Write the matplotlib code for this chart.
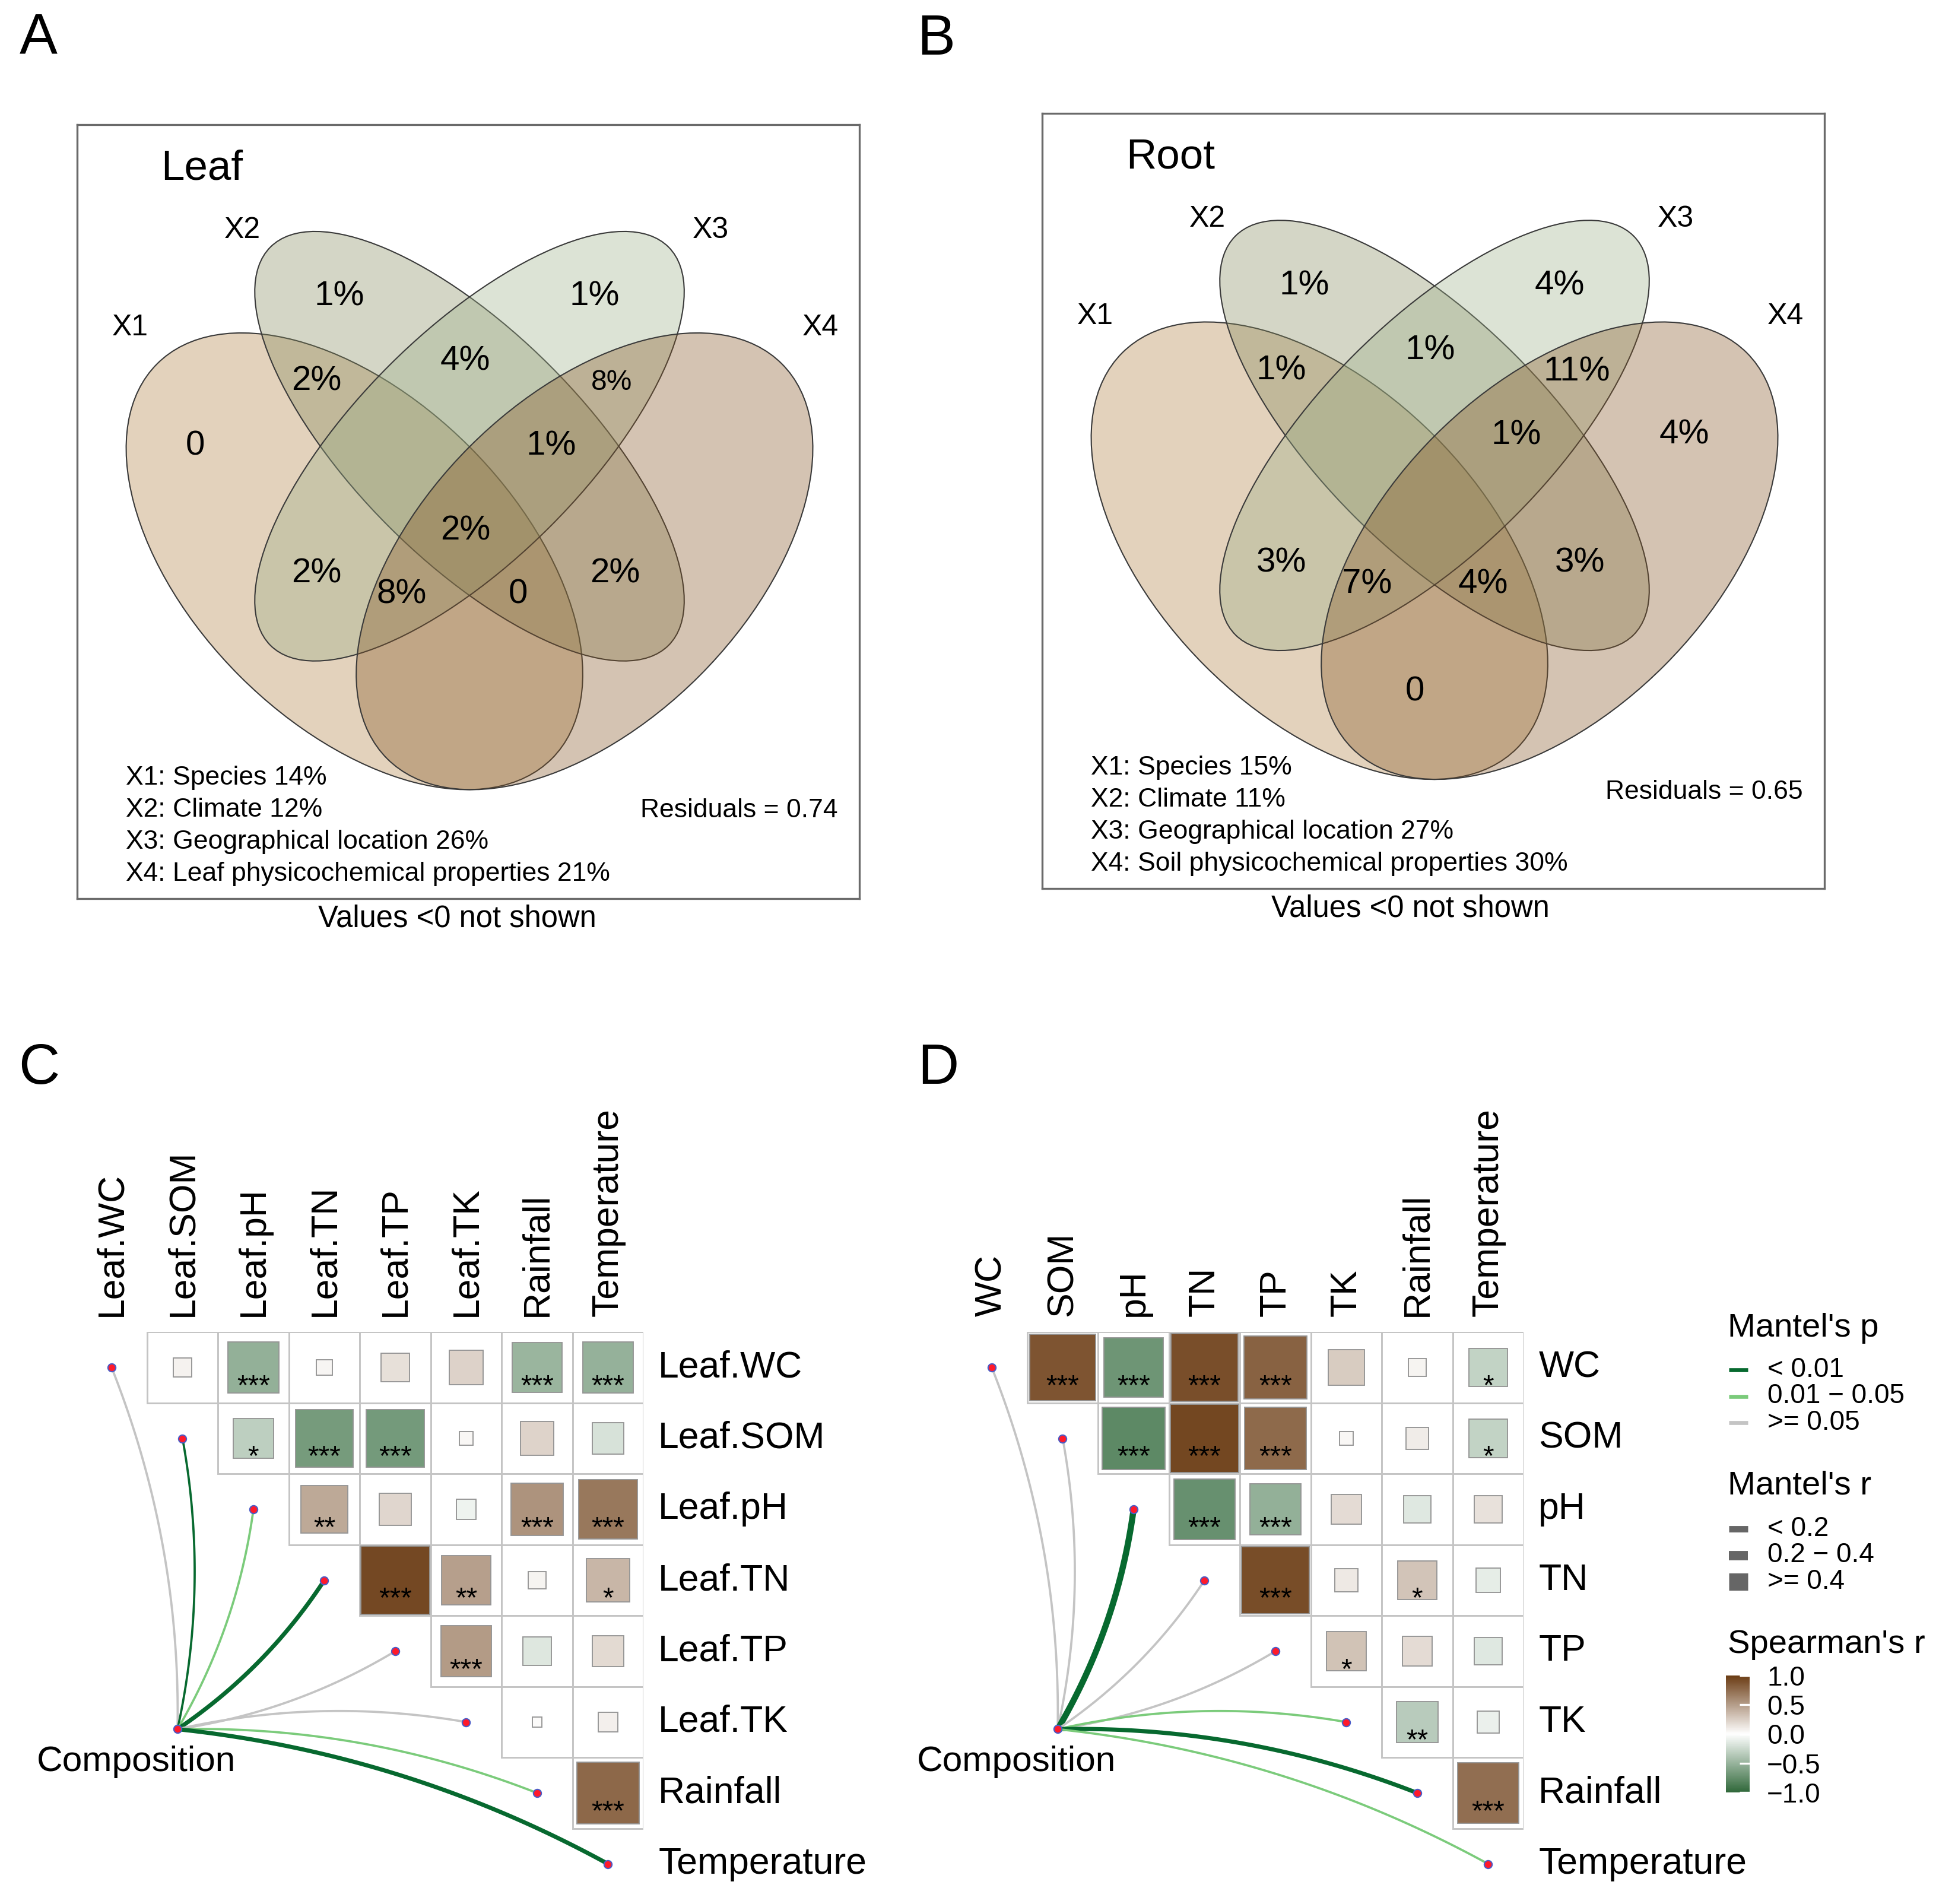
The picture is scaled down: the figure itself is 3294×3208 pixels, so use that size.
import numpy as np
import matplotlib
matplotlib.use('Agg')
import matplotlib.pyplot as plt
from matplotlib.patches import Ellipse, Rectangle
from matplotlib.colors import LinearSegmentedColormap, Normalize, to_rgba
from matplotlib.cm import ScalarMappable

plt.rcParams['font.family'] = ['Liberation Sans', 'DejaVu Sans']

W, H = 3295, 3208
DPI = 300

# ---------------- variance partitioning (A, B) ----------------
venn_regions = ['1', '2', '3', '4', '12', '13', '14', '23', '24', '34',
                '123', '124', '134', '234', '1234']
leaf_values = [0, 1, 1, None, 2, 2, None, 4, 2, 8, None, 0, 8, 1, 2]
root_values = [None, 1, 4, 4, 1, 3, 0, 1, 3, 11, None, 4, 7, 1, None]
leaf_parts = ['X1: Species 14%', 'X2: Climate 12%',
              'X3: Geographical location 26%',
              'X4: Leaf physicochemical properties 21%']
root_parts = ['X1: Species 15%', 'X2: Climate 11%',
              'X3: Geographical location 27%',
              'X4: Soil physicochemical properties 30%']
leaf_resid = 0.74
root_resid = 0.65

# ---------------- Spearman / Mantel (C, D) ----------------
leaf_vars = ['Leaf.WC', 'Leaf.SOM', 'Leaf.pH', 'Leaf.TN', 'Leaf.TP',
             'Leaf.TK', 'Rainfall', 'Temperature']
leaf_r = [[0.07, -0.52, 0.05, 0.16, 0.23, -0.49, -0.51],
          [-0.32, -0.66, -0.67, 0.04, 0.22, -0.19],
          [0.44, 0.21, -0.08, 0.55, 0.69],
          [0.93, 0.49, 0.06, 0.37],
          [0.51, -0.16, 0.19],
          [0.02, 0.08],
          [0.77]]
leaf_sig = [['', '***', '', '', '', '***', '***'],
            ['*', '***', '***', '', '', ''],
            ['**', '', '', '***', '***'],
            ['***', '**', '', '*'],
            ['***', '', ''],
            ['', ''],
            ['***']]
leaf_mantel_r = [0.08, 0.15, 0.12, 0.28, 0.06, 0.05, 0.13, 0.31]
leaf_mantel_p = [0.21, 0.004, 0.03, 0.001, 0.35, 0.42, 0.02, 0.001]

soil_vars = ['WC', 'SOM', 'pH', 'TN', 'TP', 'TK', 'Rainfall', 'Temperature']
soil_r = [[0.87, -0.70, 0.90, 0.80, 0.26, 0.06, -0.29],
          [-0.78, 0.94, 0.76, 0.04, 0.10, -0.29],
          [-0.73, -0.52, 0.18, -0.15, 0.15],
          [0.91, 0.11, 0.30, -0.12],
          [0.31, 0.18, -0.15],
          [-0.34, -0.10],
          [0.74]]
soil_sig = [['***', '***', '***', '***', '', '', '*'],
            ['***', '***', '***', '', '', '*'],
            ['***', '***', '', '', ''],
            ['***', '', '*', ''],
            ['*', '', ''],
            ['**', ''],
            ['***']]
soil_mantel_r = [0.05, 0.06, 0.45, 0.07, 0.09, 0.14, 0.32, 0.12]
soil_mantel_p = [0.32, 0.27, 0.001, 0.18, 0.14, 0.03, 0.002, 0.04]

p_labels = ['< 0.01', '0.01 \u2212 0.05', '>= 0.05']
r_labels = ['< 0.2', '0.2 \u2212 0.4', '>= 0.4']

# ---------------- styles ----------------
venn_colors = ['#AF7E40', '#848A5C', '#9BAF87', '#845423']
venn_alpha = 0.35
# ellipse geometry (panel units): centre, width, height, angle
venn_shapes = [((585, 927), 922, 536, 45), ((775, 737), 930, 376, 45),
               ((775, 737), 930, 376, -45), ((965, 927), 922, 536, -45)]
region_pos = {'1': (322, 737), '2': (560, 490), '3': (982, 490), '4': (1188, 736),
              '12': (522, 630), '13': (522, 947), '14': (743, 1160),
              '23': (768, 597), '24': (1015, 947), '34': (1010, 632),
              '123': (650, 740), '124': (855, 982), '134': (663, 982),
              '234': (910, 737), '1234': (768, 877)}
set_label_pos = [(215, 541), (400, 380), (1173, 380), (1355, 541)]

p_colors = ['#07692F', '#7BCB7B', '#C4C4C4']
r_widths = [0.9, 1.7, 2.5]
cmap = LinearSegmentedColormap.from_list('brgn', ['#30683A', '#FFFFFF', '#6B3C14'])
norm = Normalize(-1, 1)

fig = plt.figure(figsize=(W / DPI, H / DPI), dpi=DPI)


def px_axes(left, top, width, height):
    return fig.add_axes([left / W, 1 - (top + height) / H, width / W, height / H])


def draw_venn(ax, values, parts, resid, title, resid_y, foot_x, small=()):
    for (c, w, h, ang), col in zip(venn_shapes, venn_colors):
        ax.add_patch(Ellipse(c, w, h, angle=ang, fc=to_rgba(col, venn_alpha),
                             ec='#3a3a3a', lw=0.5))
    for reg, v in zip(venn_regions, values):
        if v is None:
            continue
        txt = '0' if v == 0 else '%d%%' % v
        x, y = region_pos[reg]
        ax.text(x, y, txt, ha='center', va='center',
                fontsize=11.5 if reg in small else 14)
    for k, (x, y) in enumerate(set_label_pos):
        ax.text(x, y, 'X%d' % (k + 1), ha='center', va='center', fontsize=12)
    ax.text(265, 279, title, ha='left', va='center', fontsize=17)
    for k, line in enumerate(parts):
        ax.text(207, 1285 + 52.7 * k, line, ha='left', va='center', fontsize=10.7)
    ax.text(1383, resid_y, 'Residuals = %.2f' % resid, ha='right', va='center',
            fontsize=10.7)
    ax.text(foot_x, 1517, 'Values <0 not shown', ha='center', va='center',
            fontsize=12.2, clip_on=False)
    ax.set_xlim(127, 1419)
    ax.set_ylim(1484, 206)
    ax.set_xticks([])
    ax.set_yticks([])
    for sp in ax.spines.values():
        sp.set_color('#6a6a6a')
        sp.set_linewidth(0.8)


def p_class(p):
    return 0 if p < 0.01 else (1 if p < 0.05 else 2)


def r_class(r):
    return 0 if r < 0.2 else (1 if r < 0.4 else 2)


def draw_corr(ax, names, r_rows, sig_rows, m_r, m_p):
    n = len(names)
    for i in range(n):
        for k, j in enumerate(range(i + 1, n)):
            ax.add_patch(Rectangle((j - 0.5, i - 0.5), 1, 1, fc='white',
                                   ec='#c4c4c4', lw=0.7, zorder=1))
            r = r_rows[i][k]
            s = np.sqrt(abs(r))
            ax.add_patch(Rectangle((j - s / 2, i - s / 2), s, s, fc=cmap(norm(r)),
                                   ec='#959595', lw=0.45, zorder=2))
            if sig_rows[i][k]:
                ax.text(j, i + 0.27, sig_rows[i][k], ha='center', va='center',
                        fontsize=11.5, zorder=3)
    for j, name in enumerate(names):
        ax.text(j, -0.72, name, rotation=90, ha='center', va='bottom', fontsize=15)
        ax.text(7.71, j, name, ha='left', va='center', fontsize=15)

    node = np.array([0.93, 5.1])
    t = np.linspace(0, 1, 80)[:, None]
    for i in range(n):
        tgt = np.array([float(i), float(i)])
        d = tgt - node
        perp = np.array([-d[1], d[0]])
        sign = 1 if i < node[1] - 0.5 else -1
        ctrl = (node + tgt) / 2 + sign * 0.1 * perp
        pts = (1 - t) ** 2 * node + 2 * (1 - t) * t * ctrl + t ** 2 * tgt
        ax.plot(pts[:, 0], pts[:, 1], color=p_colors[p_class(m_p[i])],
                lw=r_widths[r_class(m_r[i])], solid_capstyle='round', zorder=4)
        ax.plot(tgt[0], tgt[1], 'o', ms=3.2, mfc='#FF1A2A', mec='#4a5cc8',
                mew=0.5, zorder=5)
    ax.plot(node[0], node[1], 'o', ms=3.2, mfc='#FF1A2A', mec='#4a5cc8',
            mew=0.5, zorder=5)
    ax.text(node[0] - 0.58, node[1] + 0.46, 'Composition', ha='center',
            va='center', fontsize=14.5)
    ax.set_xlim(-1.5, 7.5)
    ax.set_ylim(7.5, -0.5)
    ax.axis('off')


# panels A and B
axA = px_axes(130, 210, 1318, 1304)
draw_venn(axA, leaf_values, leaf_parts, leaf_resid, 'Leaf', 1338, 755, small=('34',))
axB = px_axes(1756, 191, 1318, 1306)
draw_venn(axB, root_values, root_parts, root_resid, 'Root', 1325, 735)

# panels C and D
cell = 119.5
axC = px_axes(188 - 1.5 * cell, 2304 - 0.5 * cell, 9 * cell, 8 * cell)
draw_corr(axC, leaf_vars, leaf_r, leaf_sig, leaf_mantel_r, leaf_mantel_p)
axD = px_axes(1671 - 1.5 * cell, 2304 - 0.5 * cell, 9 * cell, 8 * cell)
draw_corr(axD, soil_vars, soil_r, soil_sig, soil_mantel_r, soil_mantel_p)

# panel letters
for letter, (x, y) in zip('ABCD', [(65, 65), (1577, 67), (66, 1801), (1581, 1801)]):
    fig.text(x / W, 1 - y / H, letter, ha='center', va='center', fontsize=23)

# legend (pixel coordinates)
lax = px_axes(2880, 2180, 415, 880)
lax.set_xlim(2880, 3295)
lax.set_ylim(3060, 2180)
lax.axis('off')
lax.text(2911, 2252, "Mantel's p", ha='left', va='baseline', fontsize=13.5)
for k, (lab, col) in enumerate(zip(p_labels, p_colors)):
    y = 2308 + 44.5 * k
    lax.plot([2913, 2945], [y, y], color=col, lw=1.6, solid_capstyle='butt')
    lax.text(2978, y, lab, ha='left', va='center', fontsize=11)
lax.text(2911, 2517, "Mantel's r", ha='left', va='baseline', fontsize=13.5)
for k, (lab, lw) in enumerate(zip(r_labels, [2.6, 3.8, 7.0])):
    y = 2576 + 44.5 * k
    lax.plot([2913, 2945], [y, y], color='#666666', lw=lw, solid_capstyle='butt')
    lax.text(2978, y, lab, ha='left', va='center', fontsize=11)
lax.text(2911, 2785, "Spearman's r", ha='left', va='baseline', fontsize=13.5)

cax = px_axes(2908, 2823, 40, 197)
cb = fig.colorbar(ScalarMappable(norm=norm, cmap=cmap), cax=cax)
cb.set_ticks([-1, -0.5, 0, 0.5, 1])
cb.set_ticklabels(['\u22121.0', '\u22120.5', '0.0', '0.5', '1.0'])
cb.outline.set_visible(False)
cax.tick_params(color='white', labelcolor='black', direction='in', length=4,
                width=0.8, pad=7, labelsize=11)

fig.savefig('out.png', dpi=DPI)
